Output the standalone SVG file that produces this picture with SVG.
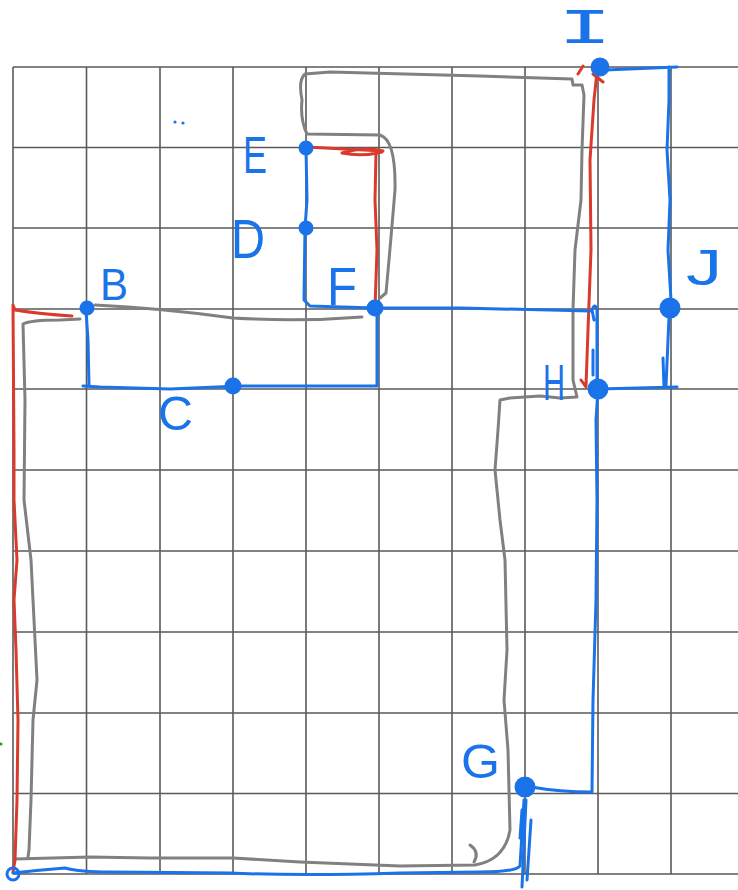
<svg xmlns="http://www.w3.org/2000/svg" width="738" height="890" viewBox="0 0 738 890">
<style>
.grid{stroke:#5a5a5a;stroke-width:1.6;fill:none}
.b{stroke:#1a73e8;stroke-width:3;fill:none;stroke-linecap:round;stroke-linejoin:round}
.r{stroke:#d93a2b;stroke-width:3;fill:none;stroke-linecap:round;stroke-linejoin:round}
.g{stroke:#808080;stroke-width:3;fill:none;stroke-linecap:round;stroke-linejoin:round}
.n{fill:#1a73e8;stroke:#1a73e8;stroke-width:3}
.lbl{font-family:"Liberation Sans",Arial,sans-serif;fill:#1a73e8}
</style>
<rect width="738" height="890" fill="#ffffff"/>
<g id="grid" class="grid">
<path d="M13,67H738M13,147.5H738M13,228H738M13,309H738M13,389H738M13,470H738M13,551H738M13,632H738M13,713H738M13,793.5H738M13,874H738"/>
<path d="M13,67V874M86.5,67V874M160,67V874M233,67V874M306,67V874M379,67V874M452,67V874M525,67V874M598,67V874M671,67V874"/>
</g>
<g id="connectors">
<path class="g" d="M80,319 L60,320 Q30,320 23,324 L25,400 L24,500 L31,560 L34,620 L37,680 L33,720 L31,800 L29,850 L28,857"/>
<path class="g" d="M15,859 L90,857 L150,858 L233,858 L300,862 L400,866 L475,865 Q505,860 510,830 L508,750 L504,700 L507,650 L505,560 L500,520 L495,470 L498,430 L500,400 L510,398 L540,396 L560,398 L577,397 L573,380 L573,310 L575,250 L581,200 L582,150 L584,95 L582,85 L573,85 L572,79 L480,76 L330,72 L305,74 Q298,80 302,100 Q300,120 307,134 L380,135 Q396,140 395,190 Q390,250 386,293 L380,298"/>
<path class="g" d="M95,305 Q160,308 233,318 Q300,322 362,317"/>
<path class="g" d="M470,845 Q480,852 474,862"/>
<path class="r" d="M72,316 Q40,314 15,310 L13,305 M13,306 L14,450 L14,500 L17,560 L14,600 L16,650 L18,720 L17,800 L15,860 L13,872"/>
<path class="r" d="M375,308 L377,250 L375,200 L376,153"/>
<path class="r" d="M306,147 L383,151 Q365,146 342,153 Q362,157 382,152"/>
<path class="r" d="M586,386 L588,330 L591,250 L590,160 L594,100 L597,72 M593,74 L603,82 M578,74 L583,66 M581,380 L586,387"/>
<path class="b" d="M13,873 Q40,870 65,868 Q80,872 110,872 L230,873 Q300,876 400,873 L480,872 Q515,872 520,866 L524,800"/>
<path class="b" d="M522,887 L526,800 M527,880 L531,820 M520,838 L522,810"/>
<path class="b" d="M531,787 Q560,792 592,792 L593,700 L596,600 L597,500 L596,420 L598,389"/>
<path class="b" d="M598,389 L677,387 M663,358 L664,387 M669,317 L666,386"/>
<path class="b" d="M671,300 L668,250 L670,200 L667,150 L669,100 L669,67 M605,70 L677,67"/>
<path class="b" d="M597,380 L597,310 Q595,302 592,310 L594,320 M593,350 L593,375"/>
<path class="b" d="M380,308 L460,308 L590,311"/>
<path class="b" d="M377,310 L377,386 L300,386 L240,386 L170,389 L100,387 L83,386 M89,386 L88,340 L86,310"/>
<path class="b" d="M306,148 L307,200 L305,228 L304,300 L310,306 L375,308"/>
</g>
<g id="E"><circle class="n" cx="306" cy="148" r="6"/><text class="lbl" x="243" y="173" font-size="52" textLength="24" lengthAdjust="spacingAndGlyphs">E</text></g>
<g id="D"><circle class="n" cx="306" cy="228" r="6"/><text class="lbl" x="231" y="258" font-size="55" textLength="34" lengthAdjust="spacingAndGlyphs">D</text></g>
<g id="B"><circle class="n" cx="87" cy="308" r="6"/><text class="lbl" x="100" y="300" font-size="44" textLength="28" lengthAdjust="spacingAndGlyphs">B</text></g>
<g id="F"><circle class="n" cx="375" cy="308" r="7"/><text class="lbl" x="327" y="305" font-size="54" textLength="30" lengthAdjust="spacingAndGlyphs">F</text></g>
<g id="C"><circle class="n" cx="233" cy="386" r="7"/><text class="lbl" x="158" y="430" font-size="48" textLength="35" lengthAdjust="spacingAndGlyphs">C</text></g>
<g id="I"><circle class="n" cx="600" cy="67" r="8"/><text class="lbl" x="558" y="43" font-size="44" textLength="54" lengthAdjust="spacingAndGlyphs" style="font-family:'DejaVu Sans Mono',monospace">I</text></g>
<g id="J"><circle class="n" cx="670" cy="308" r="9"/><text class="lbl" x="686" y="285" font-size="50" textLength="36" lengthAdjust="spacingAndGlyphs">J</text></g>
<g id="H"><circle class="n" cx="598" cy="389" r="9"/><text class="lbl" x="543" y="400" font-size="50" textLength="22" lengthAdjust="spacingAndGlyphs">H</text></g>
<g id="G"><circle class="n" cx="525" cy="787" r="9"/><text class="lbl" x="461" y="778" font-size="48" textLength="39" lengthAdjust="spacingAndGlyphs">G</text></g>
<g id="A"><circle class="b" cx="13" cy="874" r="6"/></g>
<g id="marks"><circle cx="175" cy="122" r="1.6" fill="#1a73e8"/><circle cx="183" cy="123" r="1.6" fill="#1a73e8"/><circle cx="1" cy="744" r="1.5" fill="#1a9a2a"/></g>
</svg>
